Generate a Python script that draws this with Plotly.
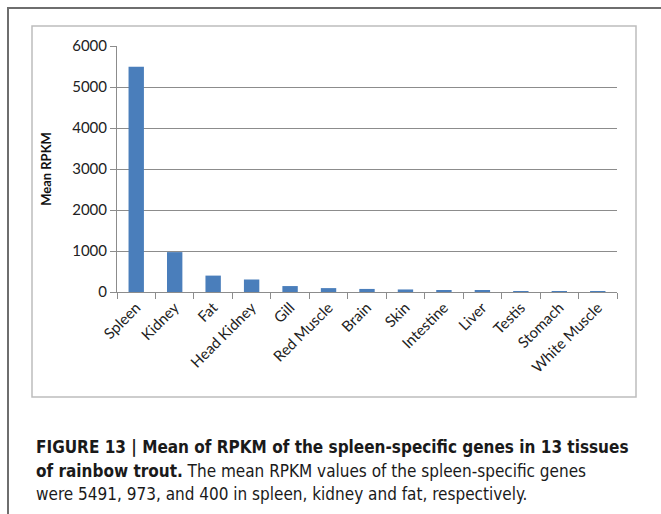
import plotly.graph_objects as go

tissues = ["Spleen", "Kidney", "Fat", "Head Kidney", "Gill", "Red Muscle", "Brain",
           "Skin", "Intestine", "Liver", "Testis", "Stomach", "White Muscle"]
mean_rpkm = [5491, 973, 400, 305, 145, 95, 75, 62, 32, 30, 15, 10, 8]
y_ticks = [0, 1000, 2000, 3000, 4000, 5000, 6000]

W, H = 661, 514
L, R, T, B = 117, 617, 46, 292  # plot area in px

def px(x):
    return (x - L) / (R - L)

def py(y):
    return (B - y) / (B - T)

fig = go.Figure()
fig.add_trace(go.Bar(x=tissues, y=mean_rpkm, marker=dict(color="#4A7EBB", line=dict(width=0)),
                     width=0.4))

fig.update_layout(
    width=W, height=H,
    margin=dict(l=L, r=W - R, t=T, b=H - B),
    paper_bgcolor="white", plot_bgcolor="white",
    showlegend=False,
    font=dict(family="Lato, Open Sans, sans-serif", size=13, color="#222"),
)
fig.update_yaxes(range=[0, 6000], tickvals=y_ticks, ticktext=[str(v) for v in y_ticks],
                 showgrid=True, gridcolor="#8c8c8c", gridwidth=1,
                 showline=True, linecolor="#8c8c8c", linewidth=1,
                 ticks="outside", ticklen=6, tickcolor="#8c8c8c",
                 tickfont=dict(size=15, color="#222"), zeroline=False,
                 title=dict(text="<b>Mean RPKM</b>", font=dict(size=13, color="#111"), standoff=17))
fig.update_xaxes(showline=True, linecolor="#8c8c8c", linewidth=1,
                 ticks="outside", ticklen=6, tickcolor="#8c8c8c", tickson="boundaries",
                 tickangle=-45, tickfont=dict(size=15, color="#222"), showgrid=False)

shapes = []
# inner chart box
shapes.append(dict(type="rect", xref="paper", yref="paper",
                   x0=px(32), x1=px(636), y0=py(397), y1=py(26),
                   line=dict(color="#bdbdbd", width=1.5), fillcolor="rgba(0,0,0,0)", layer="below"))
# outer frame (left and top edges)
shapes.append(dict(type="line", xref="paper", yref="paper",
                   x0=px(8), x1=px(8), y0=py(520), y1=py(7),
                   line=dict(color="#6e6e6e", width=2)))
shapes.append(dict(type="line", xref="paper", yref="paper",
                   x0=px(7), x1=px(670), y0=py(8), y1=py(8),
                   line=dict(color="#6e6e6e", width=2)))
fig.update_layout(shapes=shapes)

cap_font = "Liberation Sans Narrow, DejaVu Sans Condensed, Arial Narrow, sans-serif"
captions = [
    ("<b>FIGURE 13 | Mean of RPKM of the spleen-specific genes in 13 tissues</b>", 447),
    ("<b>of rainbow trout.</b> The mean RPKM values of the spleen-specific genes", 471),
    ("were 5491, 973, and 400 in spleen, kidney and fat, respectively.", 494),
]
for text, yy in captions:
    fig.add_annotation(text=text, xref="paper", yref="paper", x=px(34), y=py(yy),
                       xanchor="left", yanchor="middle", showarrow=False,
                       font=dict(family=cap_font, size=17, color="#1a1a1a"))

fig.write_html("out.html", config={"displayModeBar": False},
               post_script="document.body.style.margin='0';document.body.style.overflow='hidden';")
